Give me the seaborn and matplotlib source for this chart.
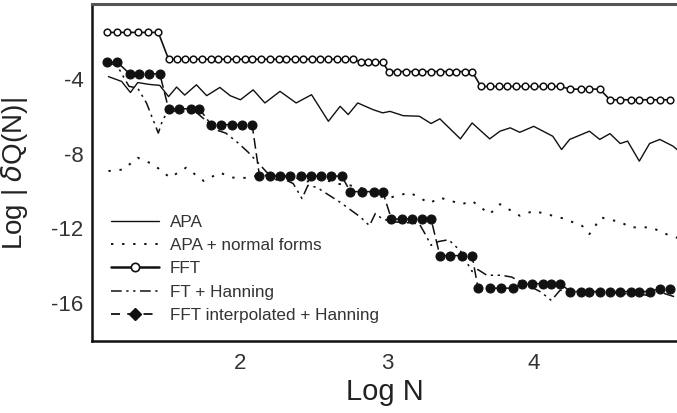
import numpy as np
import pandas as pd
import matplotlib
matplotlib.use("Agg")
import matplotlib.pyplot as plt
from matplotlib.lines import Line2D
import seaborn as sns

# ---------------- data ----------------
# APA (solid)
apa_x = [1.10, 1.19, 1.25, 1.30, 1.38, 1.45, 1.51, 1.565, 1.62, 1.70, 1.77, 1.86, 1.93, 2.00,
         2.087, 2.167, 2.27, 2.38, 2.485, 2.60, 2.68, 2.735, 2.80, 2.905, 2.97, 3.02, 3.11, 3.22,
         3.30, 3.36, 3.50, 3.58, 3.70, 3.77, 3.84, 3.905, 4.00, 4.13, 4.19, 4.245, 4.38, 4.45,
         4.52, 4.59, 4.64, 4.72, 4.79, 4.86, 4.95, 4.98]
apa_y = [-3.88, -4.14, -4.73, -4.20, -4.30, -4.35, -4.95, -4.44, -4.87, -4.32, -4.90, -4.46, -4.90, -5.12,
         -4.59, -5.29, -4.67, -5.29, -4.85, -6.27, -5.47, -5.91, -5.29, -5.65, -5.82, -5.74, -5.97, -6.00,
         -6.39, -6.14, -7.21, -6.36, -7.21, -6.80, -6.62, -6.86, -6.54, -7.07, -7.78, -7.24, -6.80, -7.24,
         -6.93, -7.46, -7.33, -8.40, -7.46, -7.24, -7.60, -7.80]

# APA + normal forms (dotted)
apanf_x = [1.10, 1.20, 1.30, 1.405, 1.52, 1.63, 1.75, 1.86, 1.95, 2.05, 2.15, 2.25, 2.35, 2.45,
           2.55, 2.65, 2.75, 2.85, 2.95, 3.02, 3.155, 3.29, 3.36, 3.51, 3.58, 3.70, 3.77, 3.905,
           4.00, 4.04, 4.20, 4.33, 4.38, 4.46, 4.60, 4.655, 4.80, 4.93, 4.98]
apanf_y = [-8.93, -8.85, -8.22, -8.57, -9.28, -8.75, -9.46, -9.02, -9.28, -9.30, -9.10, -9.40, -9.20, -9.50,
           -9.30, -9.60, -9.70, -9.90, -10.30, -10.35, -10.08, -10.65, -10.35, -10.70, -10.53, -11.23, -10.70, -11.32,
           -11.06, -11.14, -11.46, -11.86, -12.30, -11.41, -11.68, -11.94, -11.94, -12.39, -12.50]

# FFT (open circles)
fft_x = [1.09, 1.16, 1.23, 1.30, 1.37, 1.44,
         1.51, 1.57, 1.62, 1.68, 1.74, 1.80, 1.85, 1.91, 1.97, 2.03, 2.08, 2.14, 2.20, 2.26, 2.31,
         2.37, 2.43, 2.49, 2.54, 2.60, 2.66, 2.71, 2.77,
         2.82, 2.87, 2.92, 2.97,
         3.01, 3.07, 3.13, 3.19, 3.24, 3.30, 3.36, 3.42, 3.47, 3.53, 3.58,
         3.64, 3.70, 3.76, 3.82, 3.88, 3.94, 4.00, 4.06, 4.12, 4.18,
         4.25, 4.32, 4.38, 4.45,
         4.52, 4.59, 4.66, 4.72, 4.79, 4.86, 4.93]
fft_y = [-1.52] * 6 + [-2.95] * 23 + [-3.11] * 4 + [-3.61] * 11 + [-4.41] * 10 + [-4.55] * 4 + [-5.12] * 7

# FT + Hanning (dash-dot-dot)
fth_x = [1.09, 1.16, 1.24, 1.30, 1.36, 1.41, 1.44, 1.47, 1.51, 1.60, 1.70, 1.76, 1.82, 1.90, 1.98,
         2.05, 2.11, 2.18, 2.28, 2.36, 2.42, 2.46, 2.52, 2.60, 2.68, 2.75, 2.82, 2.88, 2.92, 2.97,
         3.05, 3.15, 3.22, 3.26, 3.30, 3.35, 3.42, 3.50, 3.55, 3.58, 3.62, 3.68, 3.78, 3.85, 3.95,
         4.05, 4.12, 4.18, 4.25, 4.35, 4.45, 4.55, 4.65, 4.72, 4.79, 4.83, 4.90, 4.98]
fth_y = [-3.11, -3.30, -4.40, -4.50, -5.30, -6.30, -6.90, -6.20, -5.70, -5.75, -5.80, -6.20, -6.70, -6.90, -7.40,
         -7.90, -8.40, -9.00, -9.30, -9.60, -10.40, -9.70, -9.80, -10.20, -10.60, -11.00, -11.40, -11.85, -11.20, -11.50,
         -11.65, -11.70, -11.75, -12.30, -12.90, -12.70, -12.60, -13.20, -13.90, -14.30, -14.20, -14.50, -14.50, -14.60, -15.00,
         -15.40, -15.85, -15.30, -15.40, -15.40, -15.40, -15.45, -15.50, -15.50, -15.60, -15.30, -15.50, -15.70]

# FFT interpolated + Hanning (filled circles)
ffti_x = [1.09, 1.16,
          1.245, 1.31, 1.38, 1.45,
          1.51, 1.58, 1.66, 1.72,
          1.80, 1.87, 1.94, 2.01, 2.08,
          2.13, 2.20, 2.27, 2.34, 2.41, 2.48, 2.55, 2.62, 2.69,
          2.75, 2.83, 2.91, 2.97,
          3.03, 3.10, 3.17, 3.24, 3.30,
          3.36, 3.43, 3.51, 3.58,
          3.62, 3.70, 3.78, 3.86,
          3.92, 3.99, 4.06, 4.12, 4.18,
          4.25, 4.32, 4.38, 4.45, 4.52, 4.59, 4.66, 4.72, 4.79,
          4.86, 4.93]
ffti_y = ([-3.11] * 2 + [-3.73] * 4 + [-5.60] * 4 + [-6.45] * 5 + [-9.20] * 9 + [-10.03] * 4
          + [-11.50] * 5 + [-13.45] * 4 + [-15.19] * 4 + [-14.95] * 5 + [-15.37] * 9 + [-15.22] * 2)

x_ticks = [2, 3, 4]
y_ticks = [-4, -8, -12, -16]
labels = ["APA", "APA + normal forms", "FFT", "FT + Hanning", "FFT interpolated + Hanning"]

# ---------------- style ----------------
sns.set_theme(style="white")
FONT = ["Liberation Sans", "DejaVu Sans"]
plt.rcParams["font.family"] = FONT
plt.rcParams["axes.unicode_minus"] = False

fig = plt.figure(figsize=(6.77, 4.13), dpi=100)
ax = fig.add_axes([92 / 677, 1 - 340.7 / 413, 585 / 677, 336.7 / 413])

K = "#111111"
sns.lineplot(x=apa_x, y=apa_y, ax=ax, color=K, lw=1.0, estimator=None, sort=False)
sns.lineplot(x=apanf_x, y=apanf_y, ax=ax, color=K, lw=1.4, linestyle=(0, (1.2, 4.5)),
             estimator=None, sort=False)
sns.lineplot(x=fth_x, y=fth_y, ax=ax, color=K, lw=1.1, linestyle=(0, (7, 3, 1.5, 3, 1.5, 3)),
             estimator=None, sort=False)
sns.lineplot(x=ffti_x, y=ffti_y, ax=ax, color=K, lw=1.1, linestyle=(0, (7, 3)),
             marker="o", markersize=6.5, markerfacecolor=K, markeredgecolor=K,
             estimator=None, sort=False)
sns.lineplot(x=fft_x, y=fft_y, ax=ax, color=K, lw=1.2,
             marker="o", markersize=4.8, markerfacecolor="white", markeredgecolor=K,
             markeredgewidth=1.1, estimator=None, sort=False)

ax.set_xlim(0.988, 4.977)
ax.set_ylim(-18, 0)
ax.set_xticks(x_ticks)
ax.set_xticklabels([str(t) for t in x_ticks])
ax.set_yticks(y_ticks)
ax.set_yticklabels([str(t) for t in y_ticks])
ax.tick_params(axis="both", direction="in", length=7, width=1.3, colors=K,
               labelsize=16, labelcolor="#333333", pad=6)
ax.tick_params(axis="x", pad=9)
for s in ["left", "bottom"]:
    ax.spines[s].set_color(K)
    ax.spines[s].set_linewidth(1.8)
ax.spines["top"].set_color("#555555")
ax.spines["top"].set_linewidth(2.2)
ax.spines["right"].set_visible(False)
ax.set_xlabel("")
ax.set_ylabel("")

fig.text(384.5 / 677, 1 - 392 / 413, "Log N", ha="center", va="center",
         fontsize=21, color="#222222")
fig.text(15 / 677, 1 - 174 / 413, "Log | $\\delta$Q(N)|", ha="center", va="center",
         rotation=90, fontsize=20, color="#222222")

handles = [
    Line2D([], [], color=K, lw=1.0),
    Line2D([], [], color=K, lw=1.4, linestyle=(0, (1.2, 4.5))),
    Line2D([], [], color=K, lw=1.8, marker="o", markersize=6, markerfacecolor="white",
           markeredgecolor=K, markeredgewidth=1.2),
    Line2D([], [], color=K, lw=1.1, linestyle=(0, (7, 3, 1.5, 3, 1.5, 3))),
    Line2D([], [], color=K, lw=1.3, linestyle=(0, (5, 4)), marker="D", markersize=6,
           markerfacecolor=K, markeredgecolor=K),
]
leg = ax.legend(handles, labels, loc="upper left", bbox_to_anchor=(111 / 677, 1 - 215 / 413),
                bbox_transform=fig.transFigure, frameon=False, fontsize=12.3,
                handlelength=2.8, handletextpad=0.65, labelspacing=0.48, borderpad=0,
                borderaxespad=0)
for t in leg.get_texts():
    t.set_color("#333333")

fig.savefig("out.png", dpi=100)
